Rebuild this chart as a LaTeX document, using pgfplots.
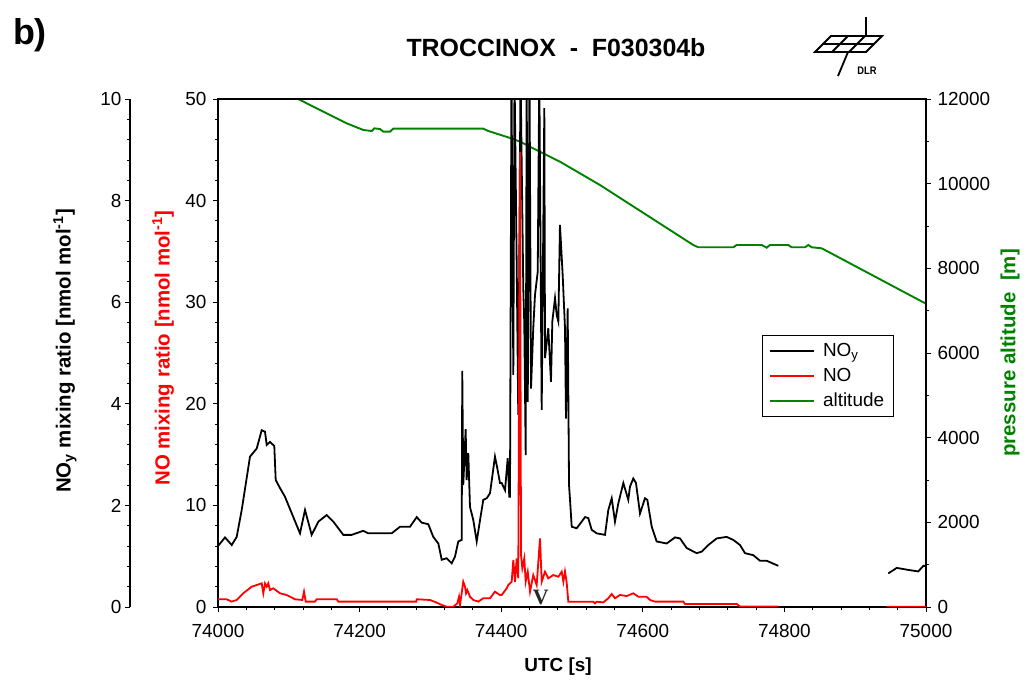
\documentclass[border=0pt]{standalone}
\usepackage{pgfplots}
\pgfplotsset{compat=1.18}
\usepackage{fontspec}
\setmainfont{Liberation Sans}
\newfontfamily\seriffont{Liberation Serif}

\definecolor{altgreen}{RGB}{0,130,0}
\definecolor{nored}{RGB}{255,0,0}

\pgfplotsset{
  ticks/.style={
    tick align=outside,
    major tick length=5bp, minor tick length=3bp,
    every tick/.style={black, line width=0.9bp},
    axis line style={line width=1.1bp},
    tick label style={font=\fontsize{19}{21}\selectfont},
    scaled ticks=false,
    /pgf/number format/fixed,
    /pgf/number format/assume math mode=true,
    /pgf/number format/1000 sep={},
  },
  base/.style={
    ticks,
    scale only axis, width=708bp, height=508bp,
    at={(218bp,74bp)}, anchor=south west,
    xmin=74000, xmax=75000,
    unbounded coords=jump,
  },
}

\begin{document}
\begin{tikzpicture}
\path[use as bounding box] (0,0) rectangle (1028bp,681bp);

% pressure altitude, right axis
\begin{axis}[base, axis x line=none, axis y line*=right,
  ymin=0, ymax=12000, ytick={0,2000,...,12000}, minor y tick num=1,
  yticklabel style={xshift=3bp}]
\addplot[draw=altgreen, line width=1.9bp] coordinates {
(74000,12900) (74113.4,12000) (74134.6,11818) (74158.2,11622) (74181.8,11425)
(74205.2,11268) (74217.1,11244) (74220.8,11307) (74228.8,11291) (74233.5,11228)
(74242.9,11228) (74247.6,11299) (74374.7,11299) (74381.8,11244) (74417.1,11055)
(74426.5,10992) (74483.0,10519) (74539.5,9968) (74671.3,8551) (74678.4,8497)
(74727.8,8497) (74732.6,8551) (74767.9,8551) (74775.0,8488) (74779.6,8551)
(74805.5,8551) (74810.3,8497) (74829.1,8497) (74833.8,8551) (74838.6,8497)
(74852.7,8473) (74975.0,7386) (75000,7164)
};
\end{axis}

% NOy data
\begin{axis}[base, hide axis, ymin=0, ymax=10]
\addplot[draw=black, line width=1.8bp] coordinates {
(74000,1.20) (74009.9,1.37) (74019.4,1.22) (74026.4,1.38) (74033.5,1.91)
(74045.2,2.96) (74054.7,3.12) (74061.7,3.48) (74066.4,3.45) (74068.8,3.19)
(74073.4,3.25) (74079.5,3.17) (74081.5,2.50) (74087.6,2.34) (74094.6,2.17)
(74115.8,1.45) (74122.9,1.91) (74132.3,1.42) (74141.7,1.68) (74153.5,1.81)
(74162.9,1.68) (74177.0,1.42) (74188.8,1.42) (74205.2,1.50) (74212.3,1.45)
(74235.9,1.45) (74245.3,1.45) (74257.1,1.58) (74271.2,1.58) (74280.7,1.77)
(74287.7,1.66) (74297.0,1.63) (74304.1,1.38) (74311.2,1.25) (74316.0,0.93)
(74323.0,0.96) (74330.1,0.86) (74334.7,0.99) (74339.4,1.29) (74344.2,1.32)
(74345.0,4.65) (74346.4,2.40) (74349.8,3.50) (74351.2,2.50) (74353.5,3.03)
(74355.9,1.97) (74360.6,1.71) (74365.4,1.29) (74370.1,1.71) (74374.7,2.11)
(74379.5,2.14) (74384.2,2.24) (74391.2,2.96) (74394.5,2.73) (74398.3,2.44)
(74400.7,2.44) (74405.4,2.30) (74409.2,2.93) (74411.4,2.17) (74412.4,2.17)
(74414.5,10.5) (74417.1,4.57) (74418.8,10.5) (74421.9,6.73) (74424.1,3.78)
(74427.3,10.5) (74431.2,6.27) (74432.6,5.58) (74434.6,2.99) (74436.0,10.5)
(74437.5,4.04) (74440.0,10.5) (74442.1,4.30) (74445.3,5.49) (74447.7,6.14)
(74451.6,6.60) (74453.8,10.5) (74457.2,3.88) (74460.9,9.82) (74461.9,4.90)
(74466.5,5.49) (74470.3,4.43) (74472.2,5.62) (74476.0,6.08) (74478.4,5.75)
(74480.7,5.62) (74483.0,7.52) (74486.8,6.54) (74490.1,5.49) (74491.5,3.71)
(74493.9,5.88) (74495.8,2.40) (74497.2,2.11) (74499.6,1.58) (74506.6,1.55)
(74513.7,1.68) (74518.4,1.77) (74523.0,1.75) (74527.8,1.52) (74534.9,1.45)
(74546.6,1.42) (74551.3,1.91) (74556.1,2.14) (74560.7,1.68) (74565.4,2.04)
(74572.5,2.44) (74579.5,2.11) (74581.9,2.37) (74586.6,2.53) (74590.4,2.44)
(74596.0,1.84) (74603.1,2.14) (74606.4,2.11) (74612.6,1.58) (74619.6,1.29)
(74633.7,1.25) (74645.5,1.37) (74652.5,1.35) (74662.0,1.16) (74676.1,1.06)
(74683.2,1.09) (74692.5,1.22) (74704.4,1.35) (74718.5,1.38) (74727.8,1.32)
(74737.3,1.22) (74744.3,1.06) (74756.1,1.02) (74765.5,0.91) (74775.0,0.91)
(74791.4,0.81) (74850,nan)
(74946.7,0.66) (74958.6,0.77) (74975.0,0.73) (74989.1,0.70) (74996.2,0.81)
(75000,0.81)
};
\end{axis}

% NOy axis, offset to the left
\begin{axis}[ticks, scale only axis, width=10bp, height=508bp,
  at={(130bp,74bp)}, anchor=south west,
  xmin=0, xmax=1, ymin=0, ymax=10,
  axis x line=none, axis y line*=left,
  ytick={0,2,...,10}, minor y tick num=4]
\addplot[draw=none] coordinates {(0,0)};
\end{axis}

% NO, main axis
\begin{axis}[base, ymin=0, ymax=50,
  ytick={0,10,...,50}, minor y tick num=4,
  xtick={74000,74200,...,75000}, minor x tick num=4,
  xtick pos=left, ytick pos=left,
  xticklabel style={yshift=-9bp},
  yticklabel style={xshift=-3bp},
  legend cell align=left,
  legend image code/.code={\draw[#1] (0bp,0bp) -- (44bp,0bp);},
  legend style={at={(rel axis cs:0.768,0.535)}, anchor=north west,
    draw=black, line width=1bp, inner xsep=7bp, inner ysep=6bp,
    font=\fontsize{19}{21}\selectfont, row sep=6bp, column sep=6bp},
  ]
\addlegendimage{draw=black, line width=1.6bp}
\addlegendentry{NO\textsubscript{y}}
\addplot[draw=nored, line width=1.8bp] coordinates {
(74000,0.76) (74012.3,0.76) (74019.4,0.53) (74026.4,0.69) (74035.7,1.35)
(74047.6,2.00) (74061.7,2.33) (74064.0,1.35) (74066.4,2.33) (74068.8,2.00)
(74071.0,2.33) (74073.4,1.67) (74078.1,1.84) (74087.6,1.35) (74097.0,1.18)
(74108.8,0.76) (74119.1,0.69) (74121.5,1.51) (74123.9,0.53) (74137.0,0.53)
(74139.4,0.76) (74167.7,0.76) (74169.9,0.53) (74280.0,0.53) (74280.7,0.76)
(74299.4,0.69) (74308.9,0.43) (74316.0,0.20) (74323.0,0.03) (74332.4,0.03)
(74338.0,0.36) (74340.4,1.01) (74341.8,0.20) (74344.2,1.35) (74346.4,2.49)
(74348.9,2.00) (74350.3,1.35) (74352.1,1.67) (74355.9,1.01) (74360.6,0.69)
(74367.7,0.53) (74374.7,0.86) (74384.2,0.86) (74391.2,1.51) (74398.3,1.18)
(74400.7,1.18) (74407.8,1.84) (74410.0,2.17) (74414.8,2.49) (74417.1,4.63)
(74419.5,2.49) (74421.9,4.79) (74424.1,2.82) (74426.5,44.8) (74428.0,5.12)
(74429.8,3.81) (74432.6,4.79) (74434.6,2.49) (74437.5,3.47) (74440.7,1.51)
(74445.3,3.15) (74450.1,2.17) (74454.8,6.76) (74457.2,2.49) (74461.9,3.47)
(74466.5,2.82) (74473.6,3.15) (74480.7,2.98) (74485.5,3.47) (74487.8,2.49)
(74490.1,3.50) (74492.5,2.40) (74494.8,0.52) (74530.1,0.52) (74532.5,0.36)
(74534.9,0.52) (74544.2,0.45) (74551.3,0.86) (74556.1,1.28) (74560.7,0.86)
(74567.8,1.18) (74577.3,1.08) (74586.6,1.35) (74593.7,1.01) (74605.5,1.01)
(74610.2,0.69) (74617.2,0.53) (74657.2,0.53) (74659.6,0.30) (74732.6,0.30)
(74737.3,0.05) (74791.4,0.05) (74850,nan)
(74944.5,0.03) (75000,0.03)
};
\addlegendentry{NO}
\addlegendimage{draw=altgreen, line width=1.6bp}
\addlegendentry{altitude}
\node[font=\seriffont\bfseries\fontsize{22}{22}\selectfont, text=black!85]
  at (axis cs:74456,0.9) {V};
\end{axis}

% labels and header
\node[rotate=90, font=\bfseries\fontsize{20.5}{22}\selectfont] at (65bp,330bp)
  {NO\textsubscript{y} mixing ratio [nmol mol\textsuperscript{-1}]};
\node[rotate=90, text=nored, font=\bfseries\fontsize{20.5}{22}\selectfont] at (163bp,333bp)
  {NO mixing ratio [nmol mol\textsuperscript{-1}]};
\node[rotate=90, text=altgreen, font=\bfseries\fontsize{20.5}{22}\selectfont] at (1010bp,328bp)
  {pressure altitude~~[m]};
\node[font=\bfseries\fontsize{19}{21}\selectfont] at (558bp,14bp) {UTC [s]};
\node[font=\bfseries\fontsize{25}{28}\selectfont] at (556bp,633bp) {TROCCINOX\ \ -\ \ F030304b};
\node[font=\bfseries\fontsize{36}{38}\selectfont] at (30bp,646bp) {b)};

% DLR logo
\begin{scope}[line width=1.8bp, line join=miter]
\draw (815bp,629bp) -- (866bp,629bp) -- (882bp,645bp) -- (831bp,645bp) -- cycle;
\draw (823bp,637bp) -- (874bp,637bp);
\draw (832bp,629bp) -- (848bp,645bp);
\draw (849bp,629bp) -- (865bp,645bp);
\draw (866bp,664bp) -- (866bp,645bp);
\draw (848bp,629bp) -- (838bp,605bp);
\end{scope}
\node[font=\bfseries\fontsize{11}{11}\selectfont, xscale=0.85] at (867bp,610bp) {DLR};
\end{tikzpicture}
\end{document}
